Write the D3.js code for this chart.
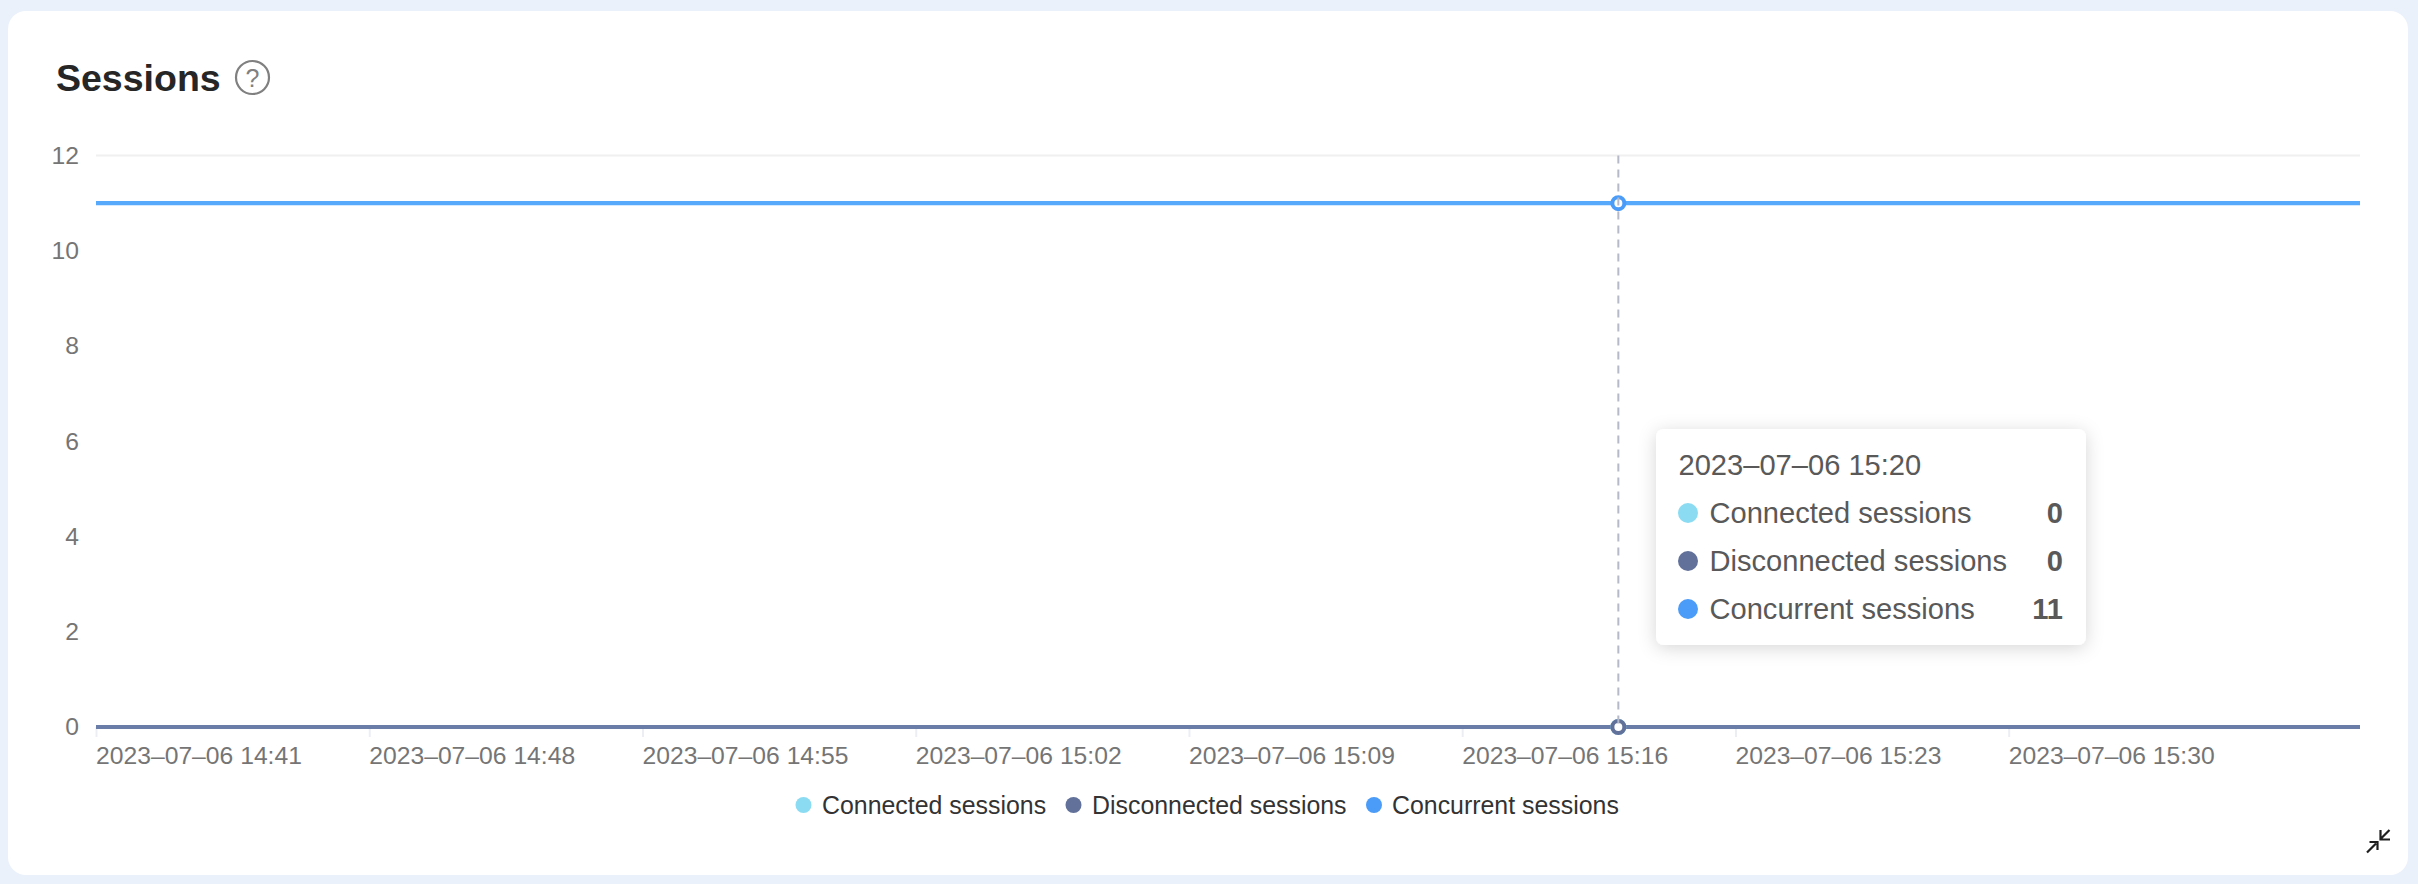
<!DOCTYPE html>
<html><head><meta charset="utf-8">
<script src="https://cdn.jsdelivr.net/npm/d3@7/dist/d3.min.js"></script>
<style>
html,body{margin:0;padding:0;background:#eaf1fb;}
svg{display:block;font-family:"Liberation Sans",Arial,sans-serif;}
</style></head><body><div id="chart"></div>
<script>
const chartTitle = "Sessions";
const datePrefix = "2023–07–06 ";
const minutes = ["14:41","14:42","14:43","14:44","14:45","14:46","14:47","14:48","14:49","14:50","14:51","14:52","14:53","14:54","14:55","14:56","14:57","14:58","14:59","15:00","15:01","15:02","15:03","15:04","15:05","15:06","15:07","15:08","15:09","15:10","15:11","15:12","15:13","15:14","15:15","15:16","15:17","15:18","15:19","15:20","15:21","15:22","15:23","15:24","15:25","15:26","15:27","15:28","15:29","15:30","15:31","15:32","15:33","15:34","15:35","15:36","15:37","15:38","15:39"];
const xTickLabels = ["14:41","14:48","14:55","15:02","15:09","15:16","15:23","15:30"];
const yTicks = [0,2,4,6,8,10,12];
const connected = [0,0,0,0,0,0,0,0,0,0,0,0,0,0,0,0,0,0,0,0,0,0,0,0,0,0,0,0,0,0,0,0,0,0,0,0,0,0,0,0,0,0,0,0,0,0,0,0,0,0,0,0,0,0,0,0,0,0,0];
const disconnected = [0,0,0,0,0,0,0,0,0,0,0,0,0,0,0,0,0,0,0,0,0,0,0,0,0,0,0,0,0,0,0,0,0,0,0,0,0,0,0,0,0,0,0,0,0,0,0,0,0,0,0,0,0,0,0,0,0,0,0];
const concurrent = [11,11,11,11,11,11,11,11,11,11,11,11,11,11,11,11,11,11,11,11,11,11,11,11,11,11,11,11,11,11,11,11,11,11,11,11,11,11,11,11,11,11,11,11,11,11,11,11,11,11,11,11,11,11,11,11,11,11,11];
const seriesNames = ["Connected sessions","Disconnected sessions","Concurrent sessions"];
const seriesDots = ["#8bdcf3","#62719a","#4b9cf8"];
const seriesLines = ["#8bdcf3","#6a7da8","#56a9fb"];
const seriesValues = [connected,disconnected,concurrent];
const hoverMinute = "15:20";

const W=2418,H=884;
const svg=d3.select("#chart").append("svg").attr("width",W).attr("height",H).attr("viewBox",`0 0 ${W} ${H}`);
const defs=svg.append("defs");
defs.append("filter").attr("id","tipShadow").attr("x","-15%").attr("y","-20%").attr("width","130%").attr("height","140%")
  .append("feDropShadow").attr("dx",0).attr("dy",3).attr("stdDeviation",9).attr("flood-color","#000").attr("flood-opacity",0.16);

svg.append("rect").attr("x",8).attr("y",11).attr("width",2400).attr("height",864).attr("rx",18).attr("fill","#fff");

// header
svg.append("text").attr("x",56).attr("y",90.5).attr("font-size",37.5).attr("font-weight",700).attr("fill","#262626").text(chartTitle);
svg.append("circle").attr("cx",252.5).attr("cy",77.5).attr("r",16.5).attr("fill","none").attr("stroke","#808080").attr("stroke-width",2.2);
svg.append("text").attr("x",252.5).attr("y",86.5).attr("text-anchor","middle").attr("font-size",25).attr("fill","#808080").text("?");

// scales
const x=d3.scalePoint().domain(minutes).range([96,2360]);
const y=d3.scaleLinear().domain([0,12]).range([727,155.5]);

// y axis
const yAxis=d3.axisLeft(y).tickValues(yTicks).tickSize(0).tickPadding(0);
const gy=svg.append("g").attr("transform","translate(79,0)").call(yAxis);
gy.select(".domain").remove();
gy.selectAll("text").attr("font-size",24.7).attr("fill","#757575").attr("font-family","inherit").attr("dy","0.32em");
svg.append("line").attr("x1",96).attr("x2",2360).attr("y1",y(12)).attr("y2",y(12)).attr("stroke","#f0f0f0").attr("stroke-width",2);

// x axis
const xAxis=d3.axisBottom(x).tickValues(xTickLabels).tickSize(10).tickPadding(0).tickFormat(()=>"");
const gx=svg.append("g").attr("transform",`translate(0,${y(0)})`).call(xAxis);
gx.select(".domain").remove();
gx.selectAll("line").attr("stroke","#eceef4").attr("stroke-width",2);
svg.append("g").selectAll("text").data(xTickLabels).join("text")
  .attr("x",d=>x(d)).attr("y",764).attr("font-size",24.7).attr("fill","#757575").text(d=>datePrefix+d);

// lines
const line=d3.line().x((d,i)=>x(minutes[i])).y(d=>y(d));
svg.append("g").selectAll("path").data(seriesValues).join("path")
  .attr("d",line).attr("fill","none").attr("stroke",(d,i)=>seriesLines[i]).attr("stroke-width",4.2);

// hover markers and crosshair
const hi=minutes.indexOf(hoverMinute), hx=x(hoverMinute);
svg.append("g").selectAll("circle").data(seriesValues).join("circle")
  .attr("cx",hx).attr("cy",d=>y(d[hi])).attr("r",6)
  .attr("fill","#fff").attr("stroke",(d,i)=>seriesDots[i]).attr("stroke-width",4);
svg.append("line").attr("x1",hx).attr("x2",hx).attr("y1",y(12)).attr("y2",y(0))
  .attr("stroke","#b5b9c8").attr("stroke-width",2).attr("stroke-dasharray","8 6");

// legend
const legendDotX=[803.5,1073.5,1374], legendTextX=[822,1092,1392];
const lg=svg.append("g").selectAll("g").data(seriesNames).join("g");
lg.append("circle").attr("cx",(d,i)=>legendDotX[i]).attr("cy",805).attr("r",8).attr("fill",(d,i)=>seriesDots[i]);
lg.append("text").attr("x",(d,i)=>legendTextX[i]).attr("y",814).attr("font-size",24.9).attr("fill","#333").text(d=>d);

// tooltip
const tip=svg.append("g");
tip.append("rect").attr("x",1656).attr("y",429).attr("width",430).attr("height",216).attr("rx",8).attr("fill","#fff").attr("filter","url(#tipShadow)");
tip.append("text").attr("x",1678.5).attr("y",475).attr("font-size",29.1).attr("fill","#595959").text(datePrefix+hoverMinute);
const rowY=[513,561,609];
const rows=tip.selectAll("g").data(seriesNames).join("g");
rows.append("circle").attr("cx",1688).attr("cy",(d,i)=>rowY[i]).attr("r",10).attr("fill",(d,i)=>seriesDots[i]);
rows.append("text").attr("x",1709.5).attr("y",(d,i)=>rowY[i]+10).attr("font-size",29.1).attr("fill","#595959").text(d=>d);
rows.append("text").attr("x",2063).attr("y",(d,i)=>rowY[i]+10).attr("text-anchor","end").attr("font-size",29.1).attr("font-weight",700).attr("fill","#595959").text((d,i)=>seriesValues[i][hi]);

// collapse icon
svg.append("path").attr("d","M2367 852.5 L2376 843.5 M2369.5 842 H2377.5 V850 M2389.5 830 L2381 838.5 M2380.5 830 V839.5 H2390")
  .attr("fill","none").attr("stroke","#1f1f1f").attr("stroke-width",2.2);
</script></body></html>
